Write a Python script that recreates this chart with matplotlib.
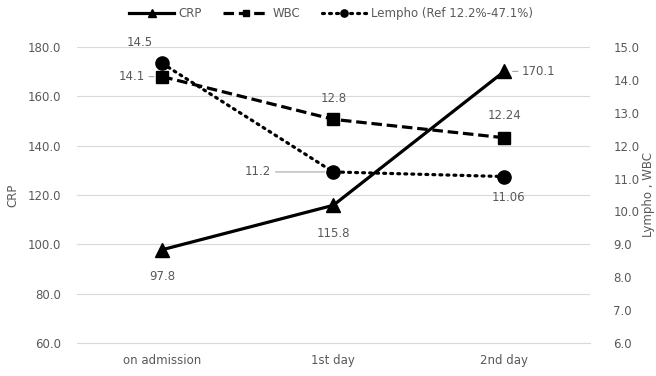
import matplotlib as mpl
mpl.use('Agg')
import matplotlib.pyplot as plt

days = ['on admission', '1st day', '2nd day']
crp = [97.8, 115.8, 170.1]
wbc = [14.1, 12.8, 12.24]
lympho = [14.5, 11.2, 11.06]
wbc_labels = ['14.1', '12.8', '12.24']
lympho_labels = ['14.5', '11.2', '11.06']

grey = '#595959'
plt.rcParams['font.family'] = ['DejaVu Sans']
plt.rcParams['font.size'] = 8.5

fig = plt.figure(figsize=(6.56, 3.76), dpi=100)
ax = fig.add_axes([0.117, 0.088, 0.782, 0.787])
ax2 = ax.twinx()

x = range(len(days))
l1, = ax.plot(x, crp, color='black', lw=2.3, marker='^', ms=10.5, label='CRP', zorder=3)
l2, = ax2.plot(x, wbc, color='black', lw=2.3, ls=(0, (3.3, 1.5)), marker='s', ms=8.5, label='WBC')
l3, = ax2.plot(x, lympho, color='black', lw=2.3, ls=(0, (0.6, 1.6)), dash_capstyle='round',
               marker='o', ms=9.5, label='Lempho (Ref 12.2%-47.1%)')

ax.set_xlim(-0.5, 2.5)
ax.set_ylim(60, 180)
ax.set_yticks(range(60, 181, 20))
ax.set_yticklabels(['%.1f' % v for v in range(60, 181, 20)])
ax2.set_ylim(6, 15)
ax2.set_yticks(range(6, 16))
ax2.set_yticklabels(['%.1f' % v for v in range(6, 16)])
ax.set_xticks(list(x))
ax.set_xticklabels(days)
ax.grid(axis='y', color='#d9d9d9', lw=0.8)
ax.set_axisbelow(True)
for a in (ax, ax2):
    for s in a.spines.values():
        s.set_visible(False)
    a.tick_params(length=0, colors=grey, labelsize=8.5)
ax.spines['bottom'].set_visible(True)
ax.spines['bottom'].set_color('#d9d9d9')
ax.tick_params(axis='x', pad=8)
ax.tick_params(axis='y', pad=11)
ax2.tick_params(axis='y', pad=17)
ax.set_ylabel('CRP', color=grey, fontsize=8.5, labelpad=6)
ax2.set_ylabel('Lympho , WBC', color=grey, fontsize=8.5, labelpad=2)

tk = dict(color=grey, fontsize=8.5)
lead = dict(arrowstyle='-', color='#a6a6a6', lw=0.8, shrinkA=1, shrinkB=6)
# CRP labels
ax.annotate('%.1f' % crp[0], (0, crp[0]), xytext=(0, -19), textcoords='offset points', ha='center', va='center', **tk)
ax.annotate('%.1f' % crp[1], (1, crp[1]), xytext=(0, -20), textcoords='offset points', ha='center', va='center', **tk)
ax.annotate('%.1f' % crp[2], (2, crp[2]), xytext=(25, 0), textcoords='offset points', ha='center', va='center',
            arrowprops=lead, **tk)
# WBC labels
ax2.annotate(wbc_labels[0], (0, wbc[0]), xytext=(-22, 0), textcoords='offset points', ha='center', va='center',
             arrowprops=lead, **tk)
ax2.annotate(wbc_labels[1], (1, wbc[1]), xytext=(0, 15), textcoords='offset points', ha='center', va='center', **tk)
ax2.annotate(wbc_labels[2], (2, wbc[2]), xytext=(0, 16), textcoords='offset points', ha='center', va='center', **tk)
# Lympho labels
ax2.annotate(lympho_labels[0], (0, lympho[0]), xytext=(-16, 15), textcoords='offset points', ha='center', va='center', **tk)
ax2.annotate(lympho_labels[1], (1, lympho[1]), xytext=(-54, 0), textcoords='offset points', ha='center', va='center',
             arrowprops=lead, **tk)
ax2.annotate(lympho_labels[2], (2, lympho[2]), xytext=(3, -15), textcoords='offset points', ha='center', va='center', **tk)

fig.legend(handles=[l1, l2, l3], loc='upper center', bbox_to_anchor=(0.505, 1.01), ncol=3, frameon=False,
           fontsize=8.5, labelcolor=grey, handlelength=3.8, handletextpad=0.4, columnspacing=1.8,
           markerscale=0.55)

plt.savefig('out.png', dpi=100)
plt.close()
